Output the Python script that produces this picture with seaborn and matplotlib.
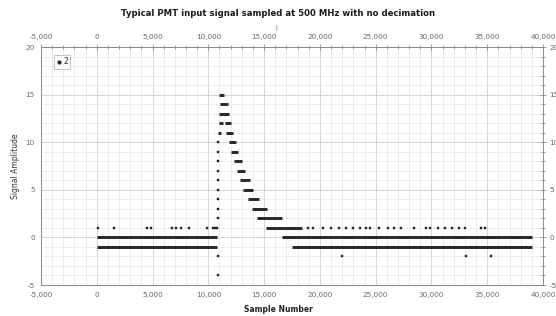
import numpy as np
import pandas as pd
import matplotlib
matplotlib.use("Agg")
import matplotlib.pyplot as plt
from matplotlib.ticker import MultipleLocator, FuncFormatter
from matplotlib.lines import Line2D
import seaborn as sns

# ---- data ----
# horizontal runs of constant amplitude: level, first sample, last sample
run_level = [0, -1, 15, 14, 13, 12, 12, 11, 11, 10, 9, 8, 7, 6, 5, 4, 3, 2, 1, 0, -1]
run_start = [0, 0, 10980, 11070, 10950, 10920, 11460, 10900, 11600, 11870, 12030, 12270,
             12570, 12830, 13070, 13520, 13930, 14380, 15160, 16570, 17460]
run_end = [10750, 10750, 11420, 11730, 11850, 11280, 12000, 11100, 12230, 12440, 12660, 13010,
           13250, 13700, 13970, 14510, 15250, 16570, 18400, 39000, 39000]

# isolated samples
pt_x = [80, 1570, 4500, 4900, 6700, 7100, 7520, 8290, 9850, 10390, 10560, 10800,
        10850, 10850, 10850, 10850, 10850, 10850, 10850, 10850, 10850,
        10850, 10850,
        18900, 19400, 20300, 21000, 21700, 22300, 23000, 23600, 24100, 24500, 25300,
        26100, 26600, 27300, 28400, 29500, 29900, 30600, 31200, 31800, 32500, 33000,
        34400, 34800,
        22000, 33100, 35300]
pt_y = [1, 1, 1, 1, 1, 1, 1, 1, 1, 1, 1, 1,
        2, 3, 4, 5, 6, 7, 8, 9, 10,
        -2, -4,
        1, 1, 1, 1, 1, 1, 1, 1, 1, 1, 1,
        1, 1, 1, 1, 1, 1, 1, 1, 1, 1, 1,
        1, 1,
        -2, -2, -2]

x_ticks = [-5000, 0, 5000, 10000, 15000, 20000, 25000, 30000, 35000, 40000]
y_ticks = [-5, 0, 5, 10, 15, 20]
series_name = "2"
title = "Typical PMT input signal sampled at 500 MHz with no decimation"
x_label = "Sample Number"
y_label = "Signal Amplitude"

# ---- build tables ----
rows = []
for i, (lv, s, e) in enumerate(zip(run_level, run_start, run_end)):
    rows.append({"run": i, "x": s, "y": lv})
    rows.append({"run": i, "x": e, "y": lv})
runs = pd.DataFrame(rows)
pts = pd.DataFrame({"x": pt_x, "y": pt_y})

sns.set_theme(style="white")
plt.rcParams["font.family"] = ["DejaVu Sans"]

fig = plt.figure(figsize=(5.56, 3.16), dpi=100)
ax = fig.add_axes([41 / 556, 1 - 285 / 316, 502 / 556, 238 / 316])

ink = "#262626"
sns.lineplot(data=runs, x="x", y="y", units="run", estimator=None, sort=False,
             color=ink, lw=2.1, legend=False, ax=ax, solid_capstyle="butt")
sns.scatterplot(data=pts, x="x", y="y", marker="s", s=3.5, color=ink,
                edgecolor=ink, linewidth=0.3, legend=False, ax=ax)

ax.set_xlim(-5000, 40000)
ax.set_ylim(-5, 20)
ax.set_xticks(x_ticks)
ax.set_yticks(y_ticks)
ax.xaxis.set_minor_locator(MultipleLocator(1000))
ax.yaxis.set_minor_locator(MultipleLocator(1))
ax.xaxis.set_major_formatter(FuncFormatter(lambda v, p: f"{v:,.0f}"))
ax.yaxis.set_major_formatter(FuncFormatter(lambda v, p: f"{v:.0f}"))

ax.grid(True, which="major", color="#cfcfcf", lw=0.6)
ax.grid(True, which="minor", color="#e4e4e4", lw=0.5)
ax.set_axisbelow(True)

for sp in ax.spines.values():
    sp.set_color("#8a8a8a")
    sp.set_linewidth(0.7)

ax.tick_params(which="both", direction="inout", colors="#8a8a8a",
               labelcolor="#666666", labelsize=5.2, top=True, right=True,
               labeltop=True, labelright=True, width=0.6)
ax.tick_params(which="major", length=5, pad=2)
ax.tick_params(which="minor", length=3)
ax.tick_params(axis="x", which="major", labeltop=True, pad=2.5)

ax.set_xlabel(x_label, fontsize=5.5, fontweight="bold", color="#222222", labelpad=2)
ax.xaxis.set_label_coords((278 - 41) / 502, -0.085)
ax.set_ylabel(y_label, fontsize=5.5, color="#333333", labelpad=4)

fig.text(0.5, 1 - 13 / 316, title, ha="center", va="center", fontsize=6.1,
         fontweight="bold", color="#1a1a1a")
fig.text(276 / 556, 1 - 27 / 316, "|", ha="center", va="center", fontsize=3.5,
         color="#444444")

handle = Line2D([], [], marker="o", ls="none", markersize=2, color=ink)
leg = ax.legend([handle], [series_name], loc="upper left",
                bbox_to_anchor=(13 / 502, 1 - 8 / 238), fontsize=5.5,
                frameon=True, fancybox=False, handlelength=0.6,
                handletextpad=0.3, borderpad=0.3, borderaxespad=0)
leg.get_frame().set_edgecolor("#aaaaaa")
leg.get_frame().set_linewidth(0.6)

fig.savefig("out.png", dpi=100)
